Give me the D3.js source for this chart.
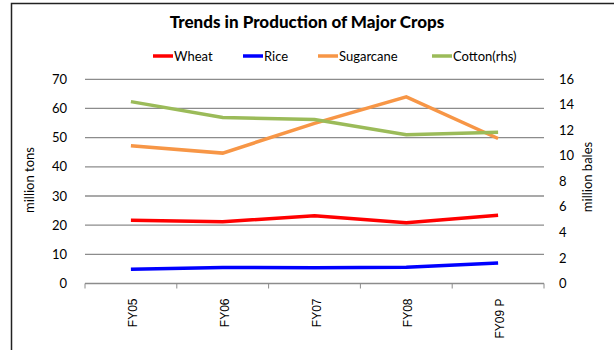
<!DOCTYPE html>
<html>
<head>
<meta charset="utf-8">
<script src="https://cdn.jsdelivr.net/npm/d3@7"></script>
<style>
  body { margin: 0; background: #fff; }
  text { font-family: Lato, "Open Sans", sans-serif; fill: #000; }
</style>
</head>
<body>
<div id="cntr"></div>
<script>
const width = 614, height = 350;

const years = ["FY05", "FY06", "FY07", "FY08", "FY09 P"];
const wheat = [21.7, 21.2, 23.2, 20.8, 23.4];
const rice = [4.9, 5.5, 5.4, 5.6, 7.0];
const sugarcane = [47.2, 44.7, 54.9, 64.0, 49.7];
const cotton = [14.25, 13.0, 12.85, 11.65, 11.85];
const leftTicks = [0, 10, 20, 30, 40, 50, 60, 70];
const rightTicks = [0, 2, 4, 6, 8, 10, 12, 14, 16];

const series = [
    { name: "Wheat", values: wheat, color: "#ff0000", axis: "left" },
    { name: "Rice", values: rice, color: "#0000ff", axis: "left" },
    { name: "Sugarcane", values: sugarcane, color: "#f79646", axis: "left" },
    { name: "Cotton(rhs)", values: cotton, color: "#9bbb59", axis: "right" }
];

const svg = d3.select("#cntr")
    .append("svg")
    .attr("width", width)
    .attr("height", height);

// chart frame (runs off the right and bottom)
svg.append("path")
    .attr("d", "M11.5,400 V3.5 H700")
    .attr("fill", "none")
    .attr("stroke", "#222")
    .attr("stroke-width", 1.5);

const x0 = 85, x1 = 544, yTop = 79.3, yBot = 283.5;

const x = d3.scaleBand().domain(years).range([x0, x1]);
const yL = d3.scaleLinear().domain([0, 70]).range([yBot, yTop]);
const yR = d3.scaleLinear().domain([0, 16]).range([yBot, yTop]);

// gridlines
svg.append("g")
    .selectAll("line")
    .data(leftTicks.slice(1))
    .join("line")
        .attr("x1", x0).attr("x2", x1)
        .attr("y1", d => yL(d)).attr("y2", d => yL(d))
        .attr("stroke", "#8c8c8c")
        .attr("stroke-width", 1.3);

// x axis
const xAxis = svg.append("g").attr("transform", `translate(0,${yBot})`);
xAxis.append("line")
    .attr("x1", x0).attr("x2", x1)
    .attr("stroke", "#8c8c8c").attr("stroke-width", 1.3);
xAxis.selectAll(".tk")
    .data(years.map(d => x(d)).concat([x1]))
    .join("line")
        .attr("class", "tk")
        .attr("x1", d => d).attr("x2", d => d)
        .attr("y1", 0).attr("y2", 5)
        .attr("stroke", "#8c8c8c");
xAxis.selectAll("text")
    .data(years)
    .join("text")
        .attr("transform", d => `translate(${x(d) + x.bandwidth() / 2 + 6},15) rotate(-90)`)
        .attr("text-anchor", "end")
        .style("font-family", "'Liberation Sans', Arial, sans-serif")
        .style("font-size", "12px")
        .text(d => d);

// left ticks
svg.append("g")
    .selectAll("text")
    .data(leftTicks)
    .join("text")
        .attr("x", 67)
        .attr("y", d => yL(d))
        .attr("dy", "0.35em")
        .attr("text-anchor", "end")
        .style("font-size", "13px")
        .text(d => d);

// right ticks
svg.append("g")
    .selectAll("text")
    .data(rightTicks)
    .join("text")
        .attr("x", 559)
        .attr("y", d => yR(d))
        .attr("dy", "0.35em")
        .style("font-size", "13px")
        .text(d => d);

// axis titles
svg.append("text")
    .attr("transform", "translate(34,180) rotate(-90)")
    .attr("text-anchor", "middle")
    .style("font-size", "13px")
    .text("million tons");
svg.append("text")
    .attr("transform", "translate(592,177) rotate(-90)")
    .attr("text-anchor", "middle")
    .style("font-size", "13px")
    .text("million bales");

// lines
const line = s => d3.line()
    .x((d, i) => x(years[i]) + x.bandwidth() / 2)
    .y(d => (s.axis === "left" ? yL : yR)(d));

svg.append("g")
    .selectAll("path")
    .data(series)
    .join("path")
        .attr("d", s => line(s)(s.values))
        .attr("fill", "none")
        .attr("stroke", s => s.color)
        .attr("stroke-width", 3.5);

// title
svg.append("text")
    .attr("x", 307)
    .attr("y", 28)
    .attr("text-anchor", "middle")
    .style("font-size", "17px")
    .style("font-weight", "900")
    .text("Trends in Production of Major Crops");

// legend
const legX = [153, 243, 318, 432];
const leg = svg.append("g")
    .selectAll("g")
    .data(series)
    .join("g")
        .attr("transform", (d, i) => `translate(${legX[i]},56)`);
leg.append("line")
    .attr("x1", 0).attr("x2", 20)
    .attr("stroke", d => d.color)
    .attr("stroke-width", 3.5);
leg.append("text")
    .attr("x", 21)
    .attr("dy", "0.35em")
    .style("font-size", "13px")
    .text(d => d.name);
</script>
</body>
</html>
